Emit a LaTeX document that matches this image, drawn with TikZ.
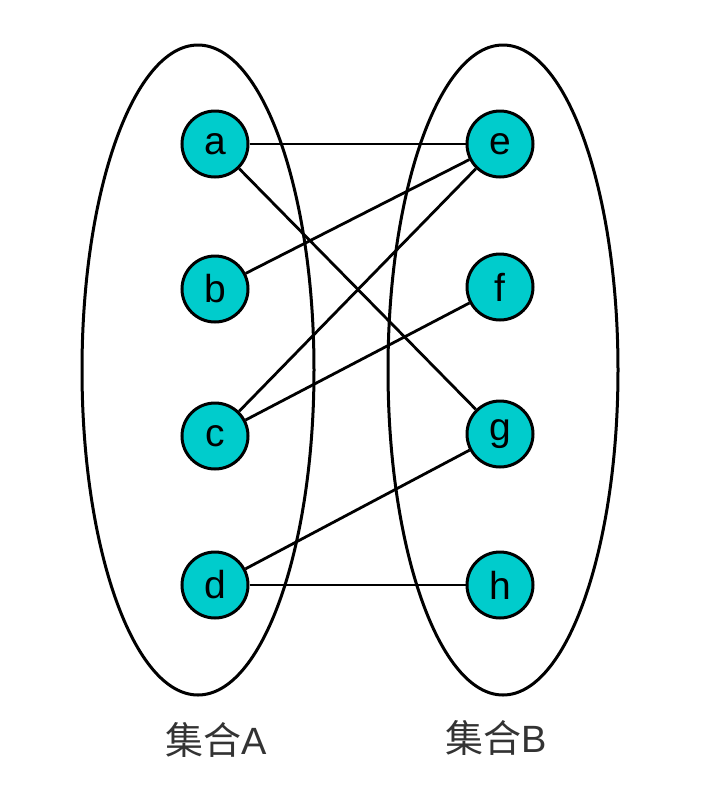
\documentclass[tikz,border=0pt]{standalone}
\usepackage{fontspec}
\setmainfont{Liberation Sans}
\newfontfamily\cjk{Noto Sans CJK SC}
\definecolor{elemfill}{RGB}{0,204,204}
\definecolor{labgray}{RGB}{51,51,51}
\begin{document}
\begin{tikzpicture}[x=1pt, y=-1pt]
  % Rahmen (Pixelmass des Originals)
  \useasboundingbox (0,0) rectangle (706,788);
  \tikzset{
    elem/.style={circle, draw=black, line width=3pt, fill=elemfill,
      minimum size=66pt, inner sep=0pt, font=\fontsize{39}{39}\selectfont},
    link/.style={line width=2.8pt},
    setlab/.style={text=labgray, font=\fontsize{38}{38}\selectfont}
  }
  % Mengen
  \draw[line width=3pt] (198,370) ellipse [x radius=116, y radius=325];
  \draw[line width=3pt] (503,370) ellipse [x radius=115, y radius=325];
  % Elemente
  \foreach \n/\x/\y in {a/215/144, b/215/289, c/215/436, d/215/585,
                        e/500/144, f/500/287, g/500/434, h/500/585} {
    \node[elem] (\n) at (\x,\y) {\n};
  }
  % Zuordnungen
  \foreach \s/\t in {a/e, a/g, b/e, c/e, c/f, d/g, d/h} {
    \draw[link] (\s) -- (\t);
  }
  % Beschriftung
  \node[setlab] (labA) at (216,740) {{\cjk 集合}A};
  \node[setlab] (labB) at (496,738) {{\cjk 集合}B};
\end{tikzpicture}
\end{document}
